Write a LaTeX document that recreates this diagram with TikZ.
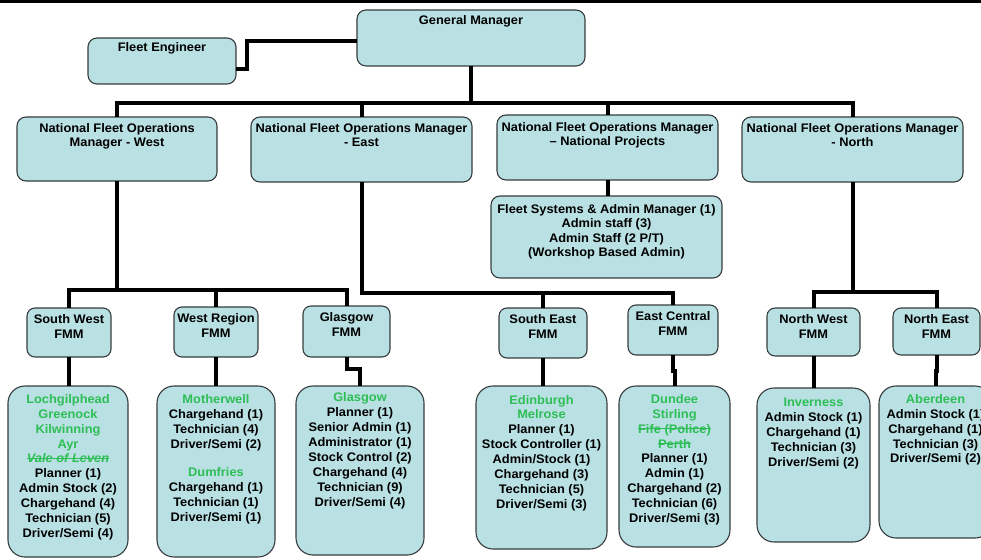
\documentclass[tikz,border=0pt]{standalone}
\usepackage{fontspec}
\setmainfont{Liberation Sans}[FakeStretch=1.035]
\usetikzlibrary{calc}
\definecolor{boxfill}{RGB}{185,224,227}
\definecolor{boxline}{RGB}{55,60,62}
\definecolor{grn}{RGB}{45,190,85}
\newcommand\gt[1]{\leavevmode{\color{grn}#1}}
\newsavebox\strkbox
\newcommand\strk[1]{\leavevmode\sbox\strkbox{#1}\rlap{\raisebox{0.3em}{\rule{\wd\strkbox}{0.9pt}}}\usebox\strkbox}
\newcommand\orgbox[8]{\node[#1, anchor=north west] (#2) at (#3,#4)
  {\parbox[c][\dimexpr #6pt - #4pt\relax][t]{\dimexpr #5pt - #3pt\relax}{\centering\rule{0pt}{#7pt}#8\par}};}
\tikzset{
  orgbase/.style={draw=boxline, fill=boxfill, line width=1.1pt, inner sep=0pt, outer sep=0pt},
  topbox/.style={orgbase, rounded corners=9pt, font=\bfseries\fontsize{12.4}{14.4}\selectfont},
  fmmbox/.style={orgbase, rounded corners=8pt, font=\bfseries\fontsize{12.4}{14.5}\selectfont},
  staffbox/.style={orgbase, rounded corners=17pt, font=\bfseries\fontsize{12.4}{14.9}\selectfont},
  conn/.style={line width=4pt, line join=miter, black},
}
\begin{document}
\begin{tikzpicture}[x=1pt, y=-1pt]
\useasboundingbox (0,0) rectangle (981,559);
\draw[line width=3pt] (0,2) -- (981,2);
% top level
\orgbox{topbox}{FE}{88}{38}{236}{84}{14}{Fleet Engineer}
\orgbox{topbox}{GM}{357}{10}{585}{66}{15}{General Manager}
% national managers
\orgbox{topbox}{NFw}{17}{117}{217}{181}{15.5}{National Fleet Operations\\Manager - West}
\orgbox{topbox}{NFe}{251}{117}{472}{182}{15.5}{National Fleet Operations Manager\\- East}
\orgbox{topbox}{NFp}{497}{115}{718}{180}{16}{National Fleet Operations Manager\\– National Projects}
\orgbox{topbox}{NFn}{742}{117}{963}{182}{15.5}{National Fleet Operations Manager\\- North}
\orgbox{topbox}{FS}{491}{196}{722}{278}{17.5}{Fleet Systems \& Admin Manager (1)\\Admin staff (3)\\Admin Staff (2 P/T)\\(Workshop Based Admin)}
% FMMs
\orgbox{fmmbox}{SWf}{27}{308}{111}{357}{15.5}{South West\\FMM}
\orgbox{fmmbox}{WRf}{174}{307}{258}{357}{15.5}{West Region\\FMM}
\orgbox{fmmbox}{GLf}{303}{306}{390}{357}{15.5}{Glasgow\\FMM}
\orgbox{fmmbox}{SEf}{499}{308}{587}{358}{15.5}{South East\\FMM}
\orgbox{fmmbox}{ECf}{628}{305}{718}{355}{15.5}{East Central\\FMM}
\orgbox{fmmbox}{NWf}{767}{308}{860}{356}{15.5}{North West\\FMM}
\orgbox{fmmbox}{NEf}{893}{308}{980}{355}{15.5}{North East\\FMM}
% staff boxes
\orgbox{staffbox}{SWb}{8}{386}{128}{557}{17.3}{\gt{Lochgilphead}\\\gt{Greenock}\\\gt{Kilwinning}\\\gt{Ayr}\\\gt{\strk{\itshape Vale of Leven}}\\Planner (1)\\Admin Stock (2)\\Chargehand (4)\\Technician (5)\\Driver/Semi (4)}
\orgbox{staffbox}{WRb}{157}{386}{275}{557}{17.3}{\gt{Motherwell}\\Chargehand (1)\\Technician (4)\\Driver/Semi (2)\\[13.5pt]\gt{Dumfries}\\Chargehand (1)\\Technician (1)\\Driver/Semi (1)}
\orgbox{staffbox}{GLb}{296}{386}{424}{555}{15.7}{\gt{Glasgow}\\Planner (1)\\Senior Admin (1)\\Administrator (1)\\Stock Control (2)\\Chargehand (4)\\Technician (9)\\Driver/Semi (4)}
\orgbox{staffbox}{SEb}{476}{386}{607}{549}{18}{\gt{Edinburgh}\\\gt{Melrose}\\Planner (1)\\Stock Controller (1)\\Admin/Stock (1)\\Chargehand (3)\\Technician (5)\\Driver/Semi (3)}
\orgbox{staffbox}{ECb}{619}{386}{730}{547}{17.3}{\gt{Dundee}\\\gt{Stirling}\\\gt{\strk{Fife (Police)}}\\\gt{\strk{Perth}}\\Planner (1)\\Admin (1)\\Chargehand (2)\\Technician (6)\\Driver/Semi (3)}
\orgbox{staffbox}{NWb}{757}{388}{870}{542}{18.7}{\gt{Inverness}\\Admin Stock (1)\\Chargehand (1)\\Technician (3)\\Driver/Semi (2)}
\orgbox{staffbox}{NEb}{879}{386}{992}{538}{17.3}{\gt{Aberdeen}\\Admin Stock (1)\\Chargehand (1)\\Technician (3)\\Driver/Semi (2)}
% connectors
\coordinate (busT) at (0,103);
\coordinate (busW) at (0,290);
\coordinate (busE) at (0,293);
\coordinate (busN) at (0,292);
\coordinate (feout) at ($(FE.north east)+(0,31)$);
\coordinate (gmin) at ($(GM.north west)+(0,31)$);
\draw[conn] (feout) -- ++(11,0) |- (gmin);
\draw[conn] (GM.south) -- (GM.south |- busT);
\draw[conn] (NFw.north) |- (NFn.north |- busT) -- (NFn.north);
\draw[conn] (NFe.north) -- (NFe.north |- busT);
\draw[conn] (NFp.north) -- (NFp.north |- busT);
\draw[conn] (NFp.south) -- (NFp.south |- FS.north);
% west
\draw[conn] (NFw.south) -- (NFw.south |- busW);
\draw[conn] (SWf.north) |- (GLf.north |- busW) -- (GLf.north);
\draw[conn] (WRf.north) -- (WRf.north |- busW);
% east
\draw[conn] (NFe.south) |- (ECf.north |- busE) -- (ECf.north);
\draw[conn] (SEf.north) -- (SEf.north |- busE);
% north
\draw[conn] (NFn.south) -- (NFn.south |- busN);
\draw[conn] (NWf.north) |- (NEf.north |- busN) -- (NEf.north);
% FMM to staff
\draw[conn] (SWf.south) -- (SWf.south |- SWb.north);
\draw[conn] (WRf.south) |- ($(WRf.south)!.5!(WRb.north)$) -| (WRb.north);
\draw[conn] (GLf.south) |- ($(GLf.south)!.4!(GLb.north)$) -| (GLb.north);
\draw[conn] (SEf.south) -- (SEf.south |- SEb.north);
\draw[conn] (ECf.south) |- ($(ECf.south)!.5!(ECb.north)$) -| (ECb.north);
\draw[conn] (NWf.south) -- (NWf.south |- NWb.north);
\draw[conn] (NEf.south) |- ($(NEf.south)!.5!(NEb.north)$) -| (NEb.north);
\end{tikzpicture}
\end{document}
